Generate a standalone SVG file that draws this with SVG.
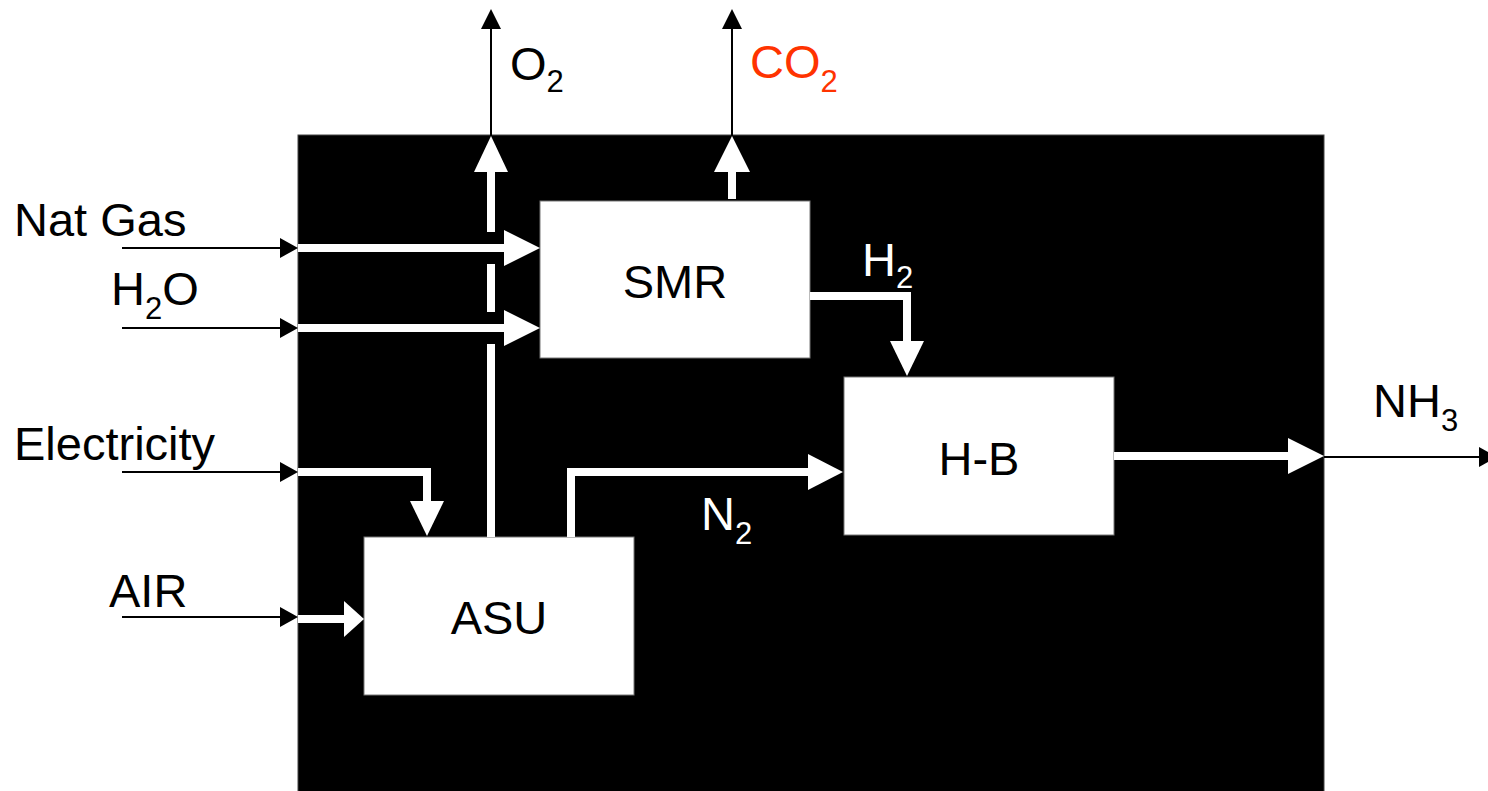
<svg xmlns="http://www.w3.org/2000/svg" width="1488" height="791" viewBox="0 0 1488 791">
<style>
text{font-family:"Liberation Sans",Arial,sans-serif;font-size:47px;fill:#000}
.w{fill:#fff}
.red{fill:#ff3300}
.sub{font-size:31px}
.box{fill:#fff;stroke:#777;stroke-width:1}
.thin{stroke:#000;stroke-width:2;fill:none}
.thick{stroke:#fff;stroke-width:8;fill:none}
.bh{fill:#000}
.wh{fill:#fff}
</style>
<rect width="1488" height="791" fill="#fff"/>
<g id="plant"><rect x="298" y="135" width="1026" height="670" fill="#000" stroke="#444" stroke-width="1"/></g>
<g id="SMR"><rect class="box" x="540" y="201" width="270" height="157"/><text x="675" y="298" text-anchor="middle">SMR</text></g>
<g id="HB"><rect class="box" x="844" y="377" width="270" height="158"/><text x="979" y="475" text-anchor="middle">H-B</text></g>
<g id="ASU"><rect class="box" x="364" y="537" width="270" height="158"/><text x="499" y="634" text-anchor="middle">ASU</text></g>
<g id="connectors">
<line class="thin" x1="122" y1="248" x2="282" y2="248"/><polygon class="bh" points="280,238 298,248 280,258"/>
<line class="thin" x1="122" y1="328" x2="282" y2="328"/><polygon class="bh" points="280,318 298,328 280,338"/>
<line class="thin" x1="122" y1="472" x2="282" y2="472"/><polygon class="bh" points="280,462 298,472 280,482"/>
<line class="thin" x1="122" y1="617" x2="282" y2="617"/><polygon class="bh" points="280,607 298,617 280,627"/>
<line class="thin" x1="491" y1="136" x2="491" y2="27"/><polygon class="bh" points="481,29 491,9 501,29"/>
<line class="thin" x1="732" y1="136" x2="732" y2="27"/><polygon class="bh" points="722,29 732,9 742,29"/>
<line class="thin" x1="1324" y1="457" x2="1481" y2="457"/><polygon class="bh" points="1479,447 1497,457 1479,467"/>
<line class="thick" x1="298" y1="248" x2="506" y2="248"/><polygon class="wh" points="504,230 540,248 504,266"/>
<line class="thick" x1="298" y1="328" x2="506" y2="328"/><polygon class="wh" points="504,310 540,328 504,346"/>
<polyline class="thick" points="298,472 427,472 427,503"/><polygon class="wh" points="410,501 427,536 444,501"/>
<line class="thick" x1="298" y1="619" x2="346" y2="619"/><polygon class="wh" points="344,601 364,619 344,637"/>
<line class="thick" x1="491" y1="537" x2="491" y2="344"/>
<line class="thick" x1="491" y1="312" x2="491" y2="264"/>
<line class="thick" x1="491" y1="232" x2="491" y2="170"/>
<polygon class="wh" points="474,172 491,136 508,172"/>
<line class="thick" x1="732" y1="199" x2="732" y2="170"/><polygon class="wh" points="714,172 732,136 750,172"/>
<polyline class="thick" points="810,296 907,296 907,343"/><polygon class="wh" points="890,341 907,376 924,341"/>
<polyline class="thick" points="571,537 571,472 810,472"/><polygon class="wh" points="808,454 843,472 808,490"/>
<line class="thick" x1="1114" y1="456" x2="1290" y2="456"/><polygon class="wh" points="1288,438 1324,456 1288,474"/>
</g>
<g id="labels">
<text x="14" y="236">Nat Gas</text>
<text x="111" y="305">H<tspan class="sub" dy="14">2</tspan><tspan dy="-14">O</tspan></text>
<text x="14" y="460">Electricity</text>
<text x="109" y="607">AIR</text>
<text x="510" y="80">O<tspan class="sub" dy="12">2</tspan></text>
<text class="red" x="750" y="78">CO<tspan class="sub" dy="14">2</tspan></text>
<text class="w" x="862" y="276">H<tspan class="sub" dy="12">2</tspan></text>
<text x="1373" y="417">NH<tspan class="sub" dy="14">3</tspan></text>
<text class="w" x="701" y="530">N<tspan class="sub" dy="14">2</tspan></text>
</g>
</svg>
